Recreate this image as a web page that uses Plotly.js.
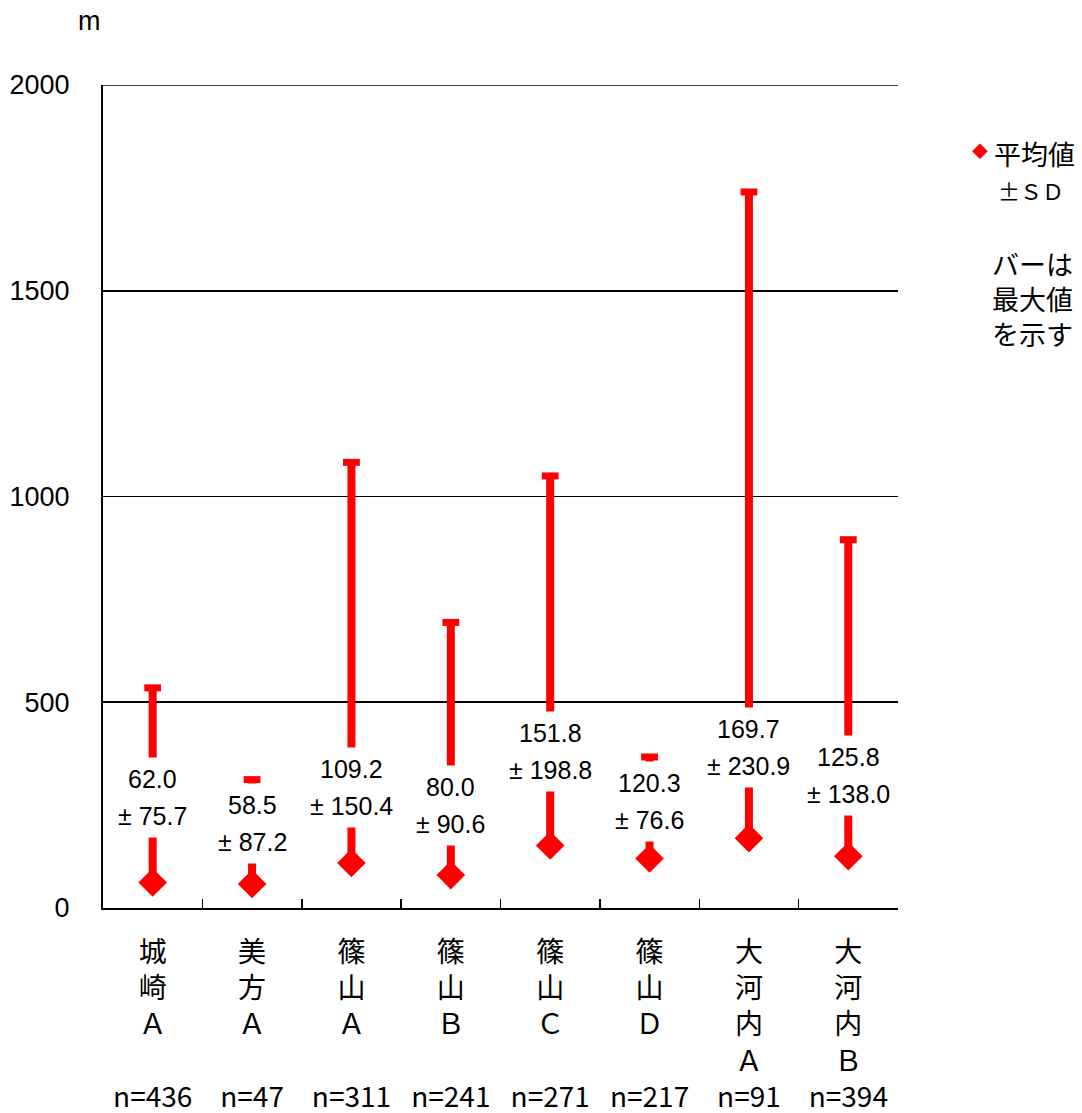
<!DOCTYPE html>
<html>
<head>
<meta charset="utf-8">
<script src="https://cdn.plot.ly/plotly-3.0.1.min.js"></script>
<style>html,body{margin:0;padding:0;background:#fff;}#chart{width:1082px;height:1113px;}</style>
</head>
<body>
<div id="chart"></div>
<script>
// ---- data ----
const categories = ['城崎Ａ', '美方Ａ', '篠山Ａ', '篠山Ｂ', '篠山Ｃ', '篠山Ｄ', '大河内Ａ', '大河内Ｂ'];
const sampleSizes = [436, 47, 311, 241, 271, 217, 91, 394];
const meanValues = [62.0, 58.5, 109.2, 80.0, 151.8, 120.3, 169.7, 125.8];
const sdValues = [75.7, 87.2, 150.4, 90.6, 198.8, 76.6, 230.9, 138.0];
const maxValues = [535, 312, 1083, 694, 1050, 367, 1740, 895];
const yTicks = [0, 500, 1000, 1500, 2000];

// ---- label placement (pixels above the mean marker) ----
const labelOffsetPx = [85, 60, 76, 70, 94, 57, 91, 81];

const RED = '#FF0000';
const latin = 'Liberation Sans, Arial, sans-serif';
const cjk = 'Noto Sans CJK JP, sans-serif';

// tick text: vertical characters, padded to 4 rows, then n=
const tickText = categories.map((c, i) => {
  const chars = Array.from(c);
  while (chars.length < 4) chars.push('');
  return chars.join('<br>') + '<br>n=' + sampleSizes[i];
});

// vertical bar from mean to maximum
const barX = [], barY = [];
categories.forEach((c, i) => { barX.push(c, c, null); barY.push(meanValues[i], maxValues[i], null); });

const traces = [
  { type: 'scatter', mode: 'lines', x: barX, y: barY, line: { color: RED, width: 8 },
    hoverinfo: 'skip', showlegend: false },
  { type: 'scatter', mode: 'markers', x: categories, y: maxValues,
    marker: { symbol: 'line-ew', size: 12, line: { color: RED, width: 7 } },
    name: '最大値', showlegend: false },
  { type: 'scatter', mode: 'markers', x: categories, y: meanValues,
    marker: { symbol: 'diamond', size: 22, color: RED },
    name: '平均値', showlegend: false }
];

const annotations = [];
categories.forEach((c, i) => {
  const common = { x: c, y: meanValues[i], xref: 'x', yref: 'y', showarrow: false,
    bgcolor: '#FFFFFF', borderpad: 7, font: { family: latin, size: 25, color: '#000' } };
  annotations.push(Object.assign({}, common, { text: meanValues[i].toFixed(1), yshift: labelOffsetPx[i] + 18.5 }));
  annotations.push(Object.assign({}, common, { text: '± ' + sdValues[i].toFixed(1), yshift: labelOffsetPx[i] - 18.5 }));
});

// plot area: x 103..898, y 85..908
const L = 103, R = 898, T = 85, B = 908;
const px = v => (v - L) / (R - L);
const py = v => (B - v) / (B - T);

const paperNote = (text, x, y, font, extra) => Object.assign({
  text: text, xref: 'paper', yref: 'paper', x: px(x), y: py(y),
  xanchor: 'center', yanchor: 'middle', showarrow: false, font: font
}, extra || {});

annotations.push(paperNote('m', 89, 21, { family: latin, size: 27, color: '#000' }));
annotations.push(paperNote('◆', 980, 150, { family: cjk, size: 16, color: RED }));
annotations.push(paperNote('平均値', 992, 153, { family: cjk, size: 27, color: '#000' }, { xanchor: 'left' }));
annotations.push(paperNote('±ＳＤ', 996, 190, { family: cjk, size: 22, color: '#000' }, { xanchor: 'left' }));
annotations.push(paperNote('バーは<br>最大値<br>を示す', 990, 298, { family: cjk, size: 27, color: '#000' }, { xanchor: 'left', align: 'left' }));

const layout = {
  width: 1082, height: 1113,
  margin: { l: L, r: 1082 - R, t: T, b: 1113 - B, pad: 0 },
  paper_bgcolor: '#FFFFFF', plot_bgcolor: '#FFFFFF',
  showlegend: false,
  xaxis: {
    type: 'category', categoryorder: 'array', categoryarray: categories,
    tickvals: categories, ticktext: tickText, tickson: 'boundaries',
    ticks: 'inside', ticklen: 9, tickwidth: 1.5, tickcolor: '#000',
    showline: true, linecolor: '#000', linewidth: 2, showgrid: false,
    tickfont: { family: cjk, size: 28, color: '#000' }, ticklabelstandoff: 18,
    range: [-0.5, categories.length - 0.5], fixedrange: true
  },
  yaxis: {
    range: [0, 2000], tickvals: yTicks, ticktext: yTicks.map(String),
    showline: true, linecolor: '#000', linewidth: 2,
    showgrid: true, gridcolor: '#000', gridwidth: 1.6, zeroline: false,
    ticks: '', ticklabelstandoff: 26,
    tickfont: { family: latin, size: 27, color: '#000' }, fixedrange: true
  },
  shapes: [
    // top gridline at the 2000 tick (Plotly omits the grid line on the range edge)
    { type: 'line', xref: 'paper', yref: 'y', x0: 0, x1: 1, y0: yTicks[yTicks.length - 1], y1: yTicks[yTicks.length - 1],
      line: { color: '#000', width: 1.6 }, layer: 'below' }
  ],
  annotations: annotations
};

Plotly.newPlot('chart', traces, layout, { displayModeBar: false, staticPlot: true });
</script>
</body>
</html>
